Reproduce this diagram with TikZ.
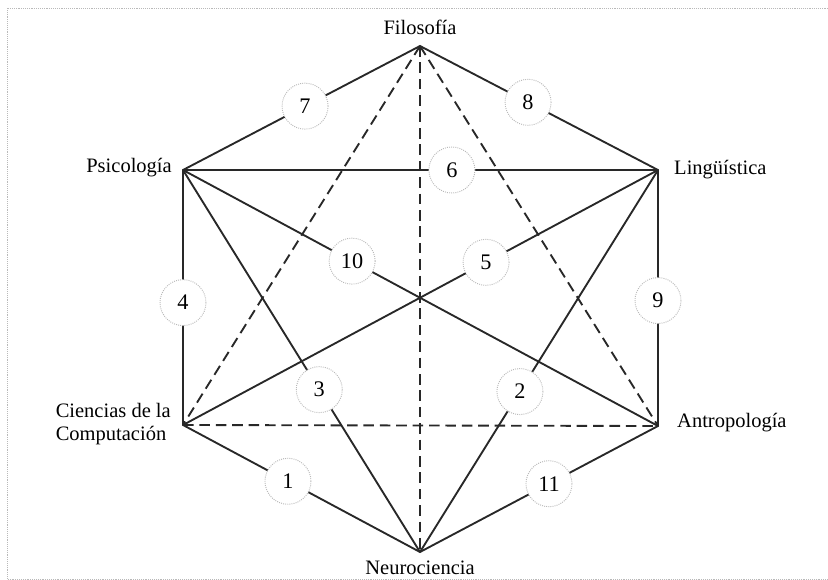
\documentclass[tikz,border=0pt]{standalone}
\usepackage{fontspec}
\setmainfont{Liberation Serif}
\usetikzlibrary{calc}

\definecolor{linegray}{RGB}{40,40,40}
\definecolor{ringgray}{RGB}{185,185,185}

\tikzset{
	edge/.style={draw=linegray, line width=1.6pt},
	dashedge/.style={draw=linegray, line width=1.6pt, dash pattern=on 9 off 5},
	num/.style={circle, draw=ringgray, densely dotted, line width=0.8pt, fill=white, minimum size=1.38cm, inner sep=0pt, font=\fontsize{19}{22}\selectfont},
	lbl/.style={font=\fontsize{17.5}{20}\selectfont, inner sep=0pt}
}

\begin{document}
\begin{tikzpicture}[x=0.03cm, y=-0.03cm]

\useasboundingbox (0,0) rectangle (828,580);

% Dotted frame round the picture
\draw [ringgray, densely dotted, line width=0.6pt] (828,8) -- (7,8) -- (7,579) -- (828,579);

% Corners of the hexagon
\coordinate (filo) at (420,46);
\coordinate (ling) at (658,170);
\coordinate (antro) at (658,426);
\coordinate (neuro) at (420,552);
\coordinate (comp) at (183,425);
\coordinate (psic) at (183,170);

% Dashed links
\draw [dashedge] (comp) -- (antro);
\draw [dashedge] (filo) -- (neuro);
\draw [dashedge] (filo) -- (comp);
\draw [dashedge] (filo) -- (antro);

% Sides of the hexagon
\draw [edge] (psic) -- (filo) -- (ling) -- (antro) -- (neuro) -- (comp) -- cycle;

% Solid links across the hexagon
\draw [edge] (psic) -- (ling);
\draw [edge] (psic) -- (antro);
\draw [edge] (comp) -- (ling);
\draw [edge] (psic) -- (neuro);
\draw [edge] (ling) -- (neuro);

% Numbered circles on the links
\node [num] (n1) at ($(comp)!0.443!(neuro)$) {1};
\node [num] (n2) at ($(ling)!0.58!(neuro)$) {2};
\node [num] (n3) at ($(psic)!0.575!(neuro)$) {3};
\node [num] (n4) at ($(psic)!0.52!(comp)$) {4};
\node [num] (n5) at ($(comp)!0.638!(ling)$) {5};
\node [num] (n6) at ($(psic)!0.566!(ling)$) {6};
\node [num] (n7) at ($(psic)!0.515!(filo)$) {7};
\node [num] (n8) at ($(filo)!0.454!(ling)$) {8};
\node [num] (n9) at ($(ling)!0.51!(antro)$) {9};
\node [num] (n10) at ($(psic)!0.356!(antro)$) {10};
\node [num] (n11) at ($(antro)!0.458!(neuro)$) {11};

% Names of the fields
\node [lbl] (lfilo) at (420,27) {Filosofía};
\node [lbl, anchor=west] (lling) at (674,170) {Lingüística};
\node [lbl, anchor=west] (lantro) at (677,423) {Antropología};
\node [lbl] (lneuro) at (420,568) {Neurociencia};
\node [lbl, anchor=east, align=left] (lcomp) at (171,424) {Ciencias de la\\Computación};
\node [lbl, anchor=east] (lpsic) at (172,168) {Psicología};

\end{tikzpicture}
\end{document}
